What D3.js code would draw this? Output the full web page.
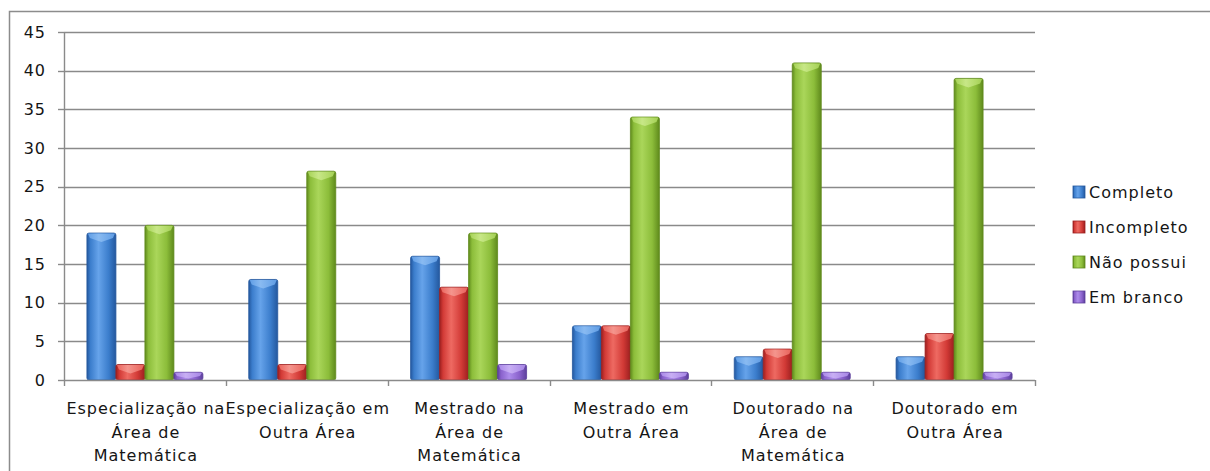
<!DOCTYPE html>
<html>
<head>
<meta charset="utf-8">
<script src="https://cdn.jsdelivr.net/npm/d3@7"></script>
<style>
  html, body { margin: 0; padding: 0; background: #fff; }
  svg { display: block; }
  text { font-family: "DejaVu Sans", Verdana, sans-serif; fill: #151515; letter-spacing: 1px; }
</style>
</head>
<body>
<svg id="chart" width="1210" height="471"></svg>
<script>
// Categories (each label split into its display lines)
const categories = [
  "Especialização na Área de Matemática",
  "Especialização em Outra Área",
  "Mestrado na Área de Matemática",
  "Mestrado em Outra Área",
  "Doutorado na Área de Matemática",
  "Doutorado em Outra Área"
];
const categoryLines = [
  ["Especialização na", "Área de", "Matemática"],
  ["Especialização em", "Outra Área"],
  ["Mestrado na", "Área de", "Matemática"],
  ["Mestrado em", "Outra Área"],
  ["Doutorado na", "Área de", "Matemática"],
  ["Doutorado em", "Outra Área"]
];
const seriesNames = ["Completo", "Incompleto", "Não possui", "Em branco"];
const completo   = [19, 13, 16, 7, 3, 3];
const incompleto = [2, 2, 12, 7, 4, 6];
const naoPossui  = [20, 27, 19, 34, 41, 39];
const emBranco   = [1, 0, 2, 1, 1, 1];
const yTicks = [0, 5, 10, 15, 20, 25, 30, 35, 40, 45];

const seriesValues = [completo, incompleto, naoPossui, emBranco];
// edge / body / highlight shades per series
const palette = [
  { edge: "#24589e", body: "#3b7dcc", light: "#66a3ea", cap: "#8dbdf2" },
  { edge: "#9c1f1f", body: "#d23a36", light: "#ee6a62", cap: "#f59a92" },
  { edge: "#5f8a1c", body: "#8cbd3a", light: "#aad65a", cap: "#cbe98c" },
  { edge: "#5c3f9c", body: "#8a62cc", light: "#ad8ceb", cap: "#cbb3f5" }
];

const svg = d3.select("#chart");
const plot = { left: 64, right: 1035, top: 32, bottom: 380 };
const fontSize = "16px";

// outer chart frame (runs off the right and bottom edge)
svg.append("path")
  .attr("d", "M9.5,471 L9.5,11.5 L1210,11.5")
  .attr("fill", "none").attr("stroke", "#8c8c8c").attr("stroke-width", 1.5);

const x = d3.scaleBand().domain(categories).range([plot.left, plot.right]).padding(0);
const xs = d3.scaleBand().domain(seriesNames).range([0, x.bandwidth()])
  .paddingInner(0).paddingOuter(0.79);
const y = d3.scaleLinear().domain([0, 45]).range([plot.bottom, plot.top]);

// gradients
const defs = svg.append("defs");
palette.forEach((p, i) => {
  const g = defs.append("linearGradient").attr("id", "grad" + i)
    .attr("x1", "0").attr("x2", "1").attr("y1", "0").attr("y2", "0");
  g.append("stop").attr("offset", "0%").attr("stop-color", p.edge);
  g.append("stop").attr("offset", "12%").attr("stop-color", p.body);
  g.append("stop").attr("offset", "40%").attr("stop-color", p.light);
  g.append("stop").attr("offset", "75%").attr("stop-color", p.body);
  g.append("stop").attr("offset", "100%").attr("stop-color", p.edge);
  const c = defs.append("linearGradient").attr("id", "cap" + i)
    .attr("x1", "0").attr("x2", "1").attr("y1", "0").attr("y2", "0");
  c.append("stop").attr("offset", "0%").attr("stop-color", p.light);
  c.append("stop").attr("offset", "40%").attr("stop-color", p.cap);
  c.append("stop").attr("offset", "100%").attr("stop-color", p.light);
});

// horizontal gridlines
svg.append("g").selectAll("line").data(yTicks.filter(d => d > 0)).join("line")
  .attr("x1", plot.left).attr("x2", plot.right)
  .attr("y1", d => Math.round(y(d)) + 0.5).attr("y2", d => Math.round(y(d)) + 0.5)
  .attr("stroke", "#8a8a8a").attr("stroke-width", 1.4);

// bars
const bars = svg.append("g");
categories.forEach((cat, ci) => {
  seriesNames.forEach((s, si) => {
    const v = seriesValues[si][ci];
    if (v <= 0) return;
    const x0 = x(cat) + xs(s);
    const w = xs.bandwidth();
    const top = y(v);
    const h = y(0) - top;
    const gBar = bars.append("g");
    gBar.append("rect")
      .attr("x", x0).attr("y", top).attr("width", w).attr("height", h)
      .attr("rx", 2)
      .attr("fill", `url(#grad${si})`)
      .attr("stroke", palette[si].edge).attr("stroke-width", 0.8);
    // bevelled top cap
    const d = Math.min(9, h * 0.8);
    const side = Math.min(5, d * 0.6);
    gBar.append("path")
      .attr("d", `M${x0 + 1},${top + 0.5} L${x0 + w - 1},${top + 0.5} L${x0 + w - 3},${top + side} L${x0 + w / 2},${top + d} L${x0 + 3},${top + side} Z`)
      .attr("fill", `url(#cap${si})`).attr("opacity", 0.9);
  });
});

// y axis
svg.append("line")
  .attr("x1", plot.left + 0.5).attr("x2", plot.left + 0.5)
  .attr("y1", plot.top).attr("y2", plot.bottom)
  .attr("stroke", "#8a8a8a").attr("stroke-width", 1.4);
const yt = svg.append("g");
yt.selectAll("line").data(yTicks).join("line")
  .attr("x1", plot.left - 6).attr("x2", plot.left)
  .attr("y1", d => Math.round(y(d)) + 0.5).attr("y2", d => Math.round(y(d)) + 0.5)
  .attr("stroke", "#8a8a8a").attr("stroke-width", 1.4);
yt.selectAll("text").data(yTicks).join("text")
  .attr("x", 46).attr("y", d => y(d))
  .attr("dy", "0.36em")
  .attr("text-anchor", "end")
  .style("font-size", fontSize)
  .text(d => d);

// x axis
svg.append("line")
  .attr("x1", plot.left).attr("x2", plot.right)
  .attr("y1", plot.bottom + 0.5).attr("y2", plot.bottom + 0.5)
  .attr("stroke", "#8a8a8a").attr("stroke-width", 1.4);
const boundaries = categories.map(c => x(c)).concat([plot.right]);
svg.append("g").selectAll("line").data(boundaries).join("line")
  .attr("x1", d => Math.round(d) + 0.5).attr("x2", d => Math.round(d) + 0.5)
  .attr("y1", plot.bottom).attr("y2", plot.bottom + 6)
  .attr("stroke", "#8a8a8a").attr("stroke-width", 1.4);

const xl = svg.append("g");
categories.forEach((cat, ci) => {
  const cx = x(cat) + x.bandwidth() / 2 + 1;
  const t = xl.append("text")
    .attr("x", cx)
    .attr("y", 414)
    .attr("text-anchor", "middle")
    .style("font-size", fontSize);
  categoryLines[ci].forEach((ln, li) => {
    t.append("tspan").attr("x", cx)
      .attr("y", 414 + li * 23.5).text(ln);
  });
});

// legend
const legend = svg.append("g");
seriesNames.forEach((s, i) => {
  const cy = 192 + i * 35;
  legend.append("rect")
    .attr("x", 1073).attr("y", cy - 6).attr("width", 12).attr("height", 12)
    .attr("fill", `url(#grad${i})`).attr("stroke", palette[i].edge).attr("stroke-width", 0.8);
  legend.append("text")
    .attr("x", 1089).attr("y", cy).attr("dy", "0.36em")
    .style("font-size", fontSize)
    .text(s);
});
</script>
</body>
</html>
